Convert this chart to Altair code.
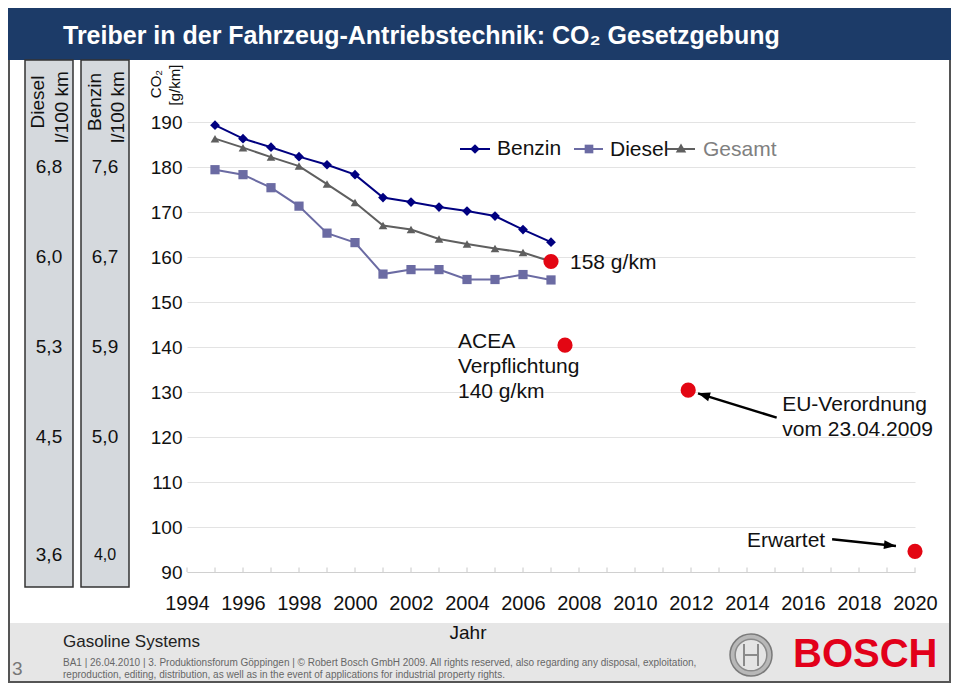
import altair as alt
import pandas as pd

# ---------------- data ----------------
years = list(range(1995, 2008))
benzin = [189.3, 186.3, 184.4, 182.3, 180.5, 178.3, 173.2, 172.2, 171.1, 170.2, 169.1, 166.1, 163.3]
diesel = [179.4, 178.3, 175.4, 171.3, 165.3, 163.2, 156.2, 157.2, 157.2, 155.0, 155.0, 156.1, 154.9]
gesamt = [186.3, 184.3, 182.2, 180.2, 176.2, 172.1, 167.0, 166.1, 164.0, 162.9, 161.9, 161.0, 159.0]
series_names = ["Benzin", "Diesel", "Gesamt"]

target_years = [2007, 2007.5, 2011.9, 2020]
target_values = [159.0, 140.4, 130.4, 94.6]

eu_arrow_years = [2015.06, 2012.25]
eu_arrow_values = [124.3, 129.7]
erw_arrow_years = [2017.04, 2019.32]
erw_arrow_values = [97.3, 95.8]

co2_ref = [180, 160, 140, 120, 93.8]
diesel_l = ["6,8", "6,0", "5,3", "4,5", "3,6"]
benzin_l = ["7,6", "6,7", "5,9", "5,0", "4,0"]

x_ticks = list(range(1994, 2021, 2))
y_ticks = list(range(90, 191, 10))
minor_years = list(range(1994, 2021))

# ---------------- styles ----------------
FONT = "Liberation Sans, Arial, sans-serif"
series_colors = ["#000080", "#6b6ba3", "#5f5f5f"]
series_shapes = ["diamond", "square", "triangle-up"]
RED = "#e30613"
NAVY = "#1c3b68"
ARROW = "M0,0L-2,-0.75L-2,0.75Z"

XS = alt.Scale(domain=[1994, 2020], nice=False, zero=False)
YS = alt.Scale(domain=[90, 190], nice=False, zero=False)
xaxis = alt.Axis(values=x_ticks, format="d", title=None, grid=False, ticks=False,
                 domain=True, domainColor="#d0d0d0", domainWidth=1,
                 labelFontSize=20, labelColor="#111111", labelPadding=21,
                 labelFlush=False, labelOverlap=False, labelFont=FONT)
yaxis = alt.Axis(values=y_ticks, title=None, grid=True, gridColor="#e3e3e3",
                 ticks=False, domain=False, labelFontSize=19, labelPadding=5,
                 labelColor="#111111", labelFont=FONT)
X = alt.X("year:Q", scale=XS, axis=xaxis)
Y = alt.Y("value:Q", scale=YS, axis=yaxis)

one = pd.DataFrame({"k": [0]})


def prect(x1, x2, y1, y2, **kw):
    return alt.Chart(one).mark_rect(**kw).encode(
        x=alt.value(x1), x2=alt.value(x2), y=alt.value(y1), y2=alt.value(y2))


def prule(x1, x2, y1, y2, **kw):
    return alt.Chart(one).mark_rule(**kw).encode(
        x=alt.value(x1), x2=alt.value(x2), y=alt.value(y1), y2=alt.value(y2))


def ptext(txt, x, y, **kw):
    kw.setdefault("font", FONT)
    kw.setdefault("baseline", "middle")
    kw.setdefault("align", "left")
    return alt.Chart(one).mark_text(text=txt, **kw).encode(x=alt.value(x), y=alt.value(y))


def ppoint(x, y, **kw):
    return alt.Chart(one).mark_point(**kw).encode(x=alt.value(x), y=alt.value(y))


layers = []

# slide background pieces
layers.append(prect(-179, 764, -114, -62, color=NAVY))
layers.append(ptext("Treiber in der Fahrzeug-Antriebstechnik: CO₂ Gesetzgebung", -124, -86,
                    fontSize=25, fontWeight="bold", color="white"))
layers.append(prect(-179, 764, 501, 561, color="#e6e6e6"))
layers.append(prule(-178, -178, -62, 561, color="#555555", strokeWidth=2))
layers.append(prule(763, 763, -62, 561, color="#555555", strokeWidth=2))
layers.append(prule(-179, 764, 560, 560, color="#555555", strokeWidth=2))

# left boxes
layers.append(prect(-162, -114, -62, 465, fill="#d5d9dd", stroke="#333333", strokeWidth=1.5))
layers.append(prect(-106, -58, -62, 465, fill="#d5d9dd", stroke="#333333", strokeWidth=1.5))
layers.append(ptext("Diesel", -149, -20, angle=270, align="center", fontSize=19, color="#111111"))
layers.append(ptext("l/100 km", -125, -15, angle=270, align="center", fontSize=19, color="#111111"))
layers.append(ptext("Benzin", -92, -20, angle=270, align="center", fontSize=19, color="#111111"))
layers.append(ptext("l/100 km", -69, -15, angle=270, align="center", fontSize=19, color="#111111"))
layers.append(ptext("CO₂", -31, -38, angle=270, align="center", fontSize=15, color="#111111"))
layers.append(ptext("[g/km]", -12, -37, angle=270, align="center", fontSize=15, color="#111111"))

lab_d = pd.DataFrame({"value": co2_ref, "lab": diesel_l})
lab_b = pd.DataFrame({"value": co2_ref, "lab": benzin_l})
layers.append(alt.Chart(lab_d).mark_text(font=FONT, fontSize=19, color="#111111").encode(
    x=alt.value(-138), y=Y, text="lab:N"))
layers.append(alt.Chart(lab_b.iloc[:4]).mark_text(font=FONT, fontSize=19, color="#111111").encode(
    x=alt.value(-82), y=Y, text="lab:N"))
layers.append(alt.Chart(lab_b.iloc[4:]).mark_text(font=FONT, fontSize=16, color="#111111").encode(
    x=alt.value(-82), y=Y, text="lab:N"))

# minor year ticks (inside)
ticks = pd.DataFrame({"year": minor_years, "value": [90] * len(minor_years), "v2": [91] * len(minor_years)})
layers.append(alt.Chart(ticks).mark_rule(color="#c8c8c8", strokeWidth=1).encode(
    x=X, y=Y, y2=alt.Y2("v2")))

# data series
df = pd.DataFrame({
    "year": years * 3,
    "value": benzin + diesel + gesamt,
    "series": [s for s in series_names for _ in years],
})
color = alt.Color("series:N", scale=alt.Scale(domain=series_names, range=series_colors), legend=None)
layers.append(alt.Chart(df).mark_line(strokeWidth=2).encode(x=X, y=Y, color=color, detail="series:N"))
layers.append(alt.Chart(df).mark_point(filled=True, opacity=1).encode(
    x=X, y=Y, color=color,
    shape=alt.Shape("series:N", scale=alt.Scale(domain=series_names, range=series_shapes), legend=None),
    size=alt.Size("series:N", scale=alt.Scale(domain=series_names, range=[95, 75, 110]), legend=None)))

# legend (custom)
layers.append(prule(273, 303, 27, 27, color=series_colors[0], strokeWidth=2))
layers.append(ppoint(288, 27, shape="diamond", filled=True, size=95, color=series_colors[0], opacity=1))
layers.append(ptext("Benzin", 310, 27, fontSize=21, color="#111111"))
layers.append(prule(387, 416, 27, 27, color=series_colors[1], strokeWidth=2))
layers.append(ppoint(402, 27, shape="square", filled=True, size=75, color=series_colors[1], opacity=1))
layers.append(ptext("Diesel", 423, 28, fontSize=21, color="#111111"))
layers.append(prule(480, 508, 27, 27, color=series_colors[2], strokeWidth=2))
layers.append(ppoint(494, 26, shape="triangle-up", filled=True, size=110, color=series_colors[2], opacity=1))
layers.append(ptext("Gesamt", 516, 28, fontSize=21, color="#808080"))

# targets
tg = pd.DataFrame({"year": target_years, "value": target_values})
layers.append(alt.Chart(tg).mark_circle(color=RED, size=230, opacity=1).encode(x=X, y=Y))


def atext(i, txt, dx, dy):
    return alt.Chart(tg.iloc[[i]]).mark_text(text=txt, font=FONT, fontSize=21, color="#111111",
                                            align="left", baseline="middle", dx=dx, dy=dy).encode(x=X, y=Y)


layers.append(atext(0, "158 g/km", 19, 1))
layers.append(atext(1, "ACEA", -107, -3))
layers.append(atext(1, "Verpflichtung", -107, 22))
layers.append(atext(1, "140 g/km", -107, 47))
layers.append(atext(2, "EU-Verordnung", 94, 15))
layers.append(atext(2, "vom 23.04.2009", 94, 40))
layers.append(atext(3, "Erwartet", -168, -10))

# arrows
eu = pd.DataFrame({"year": eu_arrow_years, "value": eu_arrow_values})
erw = pd.DataFrame({"year": erw_arrow_years, "value": erw_arrow_values})
layers.append(alt.Chart(eu).mark_line(color="black", strokeWidth=2.5).encode(x=X, y=Y))
layers.append(alt.Chart(eu.iloc[[1]]).mark_point(shape=ARROW, filled=True, size=144, angle=197,
                                                 color="black", opacity=1).encode(x=X, y=Y))
layers.append(alt.Chart(erw).mark_line(color="black", strokeWidth=2.5).encode(x=X, y=Y))
layers.append(alt.Chart(erw.iloc[[1]]).mark_point(shape=ARROW, filled=True, size=144, angle=6,
                                                  color="black", opacity=1).encode(x=X, y=Y))

# footer
layers.append(ptext("Jahr", 281, 511, align="center", fontSize=19, color="#111111"))
layers.append(ptext("Gasoline Systems", -124, 520, fontSize=17, color="#222222"))
layers.append(ptext("3", -175, 547, fontSize=19, color="#777777"))
layers.append(ptext("BA1 | 26.04.2010 | 3. Produktionsforum Göppingen | © Robert Bosch GmbH 2009. "
                    "All rights reserved, also regarding any disposal, exploitation,",
                    -124, 541, fontSize=10, color="#666666"))
layers.append(ptext("reproduction, editing, distribution, as well as in the event of applications "
                    "for industrial property rights.",
                    -124, 553, fontSize=10, color="#666666"))
# Bosch logo
layers.append(ppoint(564, 533, shape="circle", filled=True, size=1764, color="#b8b8b8", opacity=1))
layers.append(ppoint(564, 533, shape="circle", filled=False, size=1764, color="#7a7a7a",
                     strokeWidth=1.5, opacity=1))
layers.append(ppoint(564, 533, shape="circle", filled=True, size=1000, color="#e4e4e4", opacity=1))
layers.append(ppoint(564, 533, shape="circle", filled=False, size=1000, color="#8a8a8a",
                     strokeWidth=1.5, opacity=1))
layers.append(prule(557, 557, 522, 544, color="#8a8a8a", strokeWidth=2))
layers.append(prule(571, 571, 522, 544, color="#8a8a8a", strokeWidth=2))
layers.append(prule(557, 571, 533, 533, color="#8a8a8a", strokeWidth=2))
layers.append(ptext("BOSCH", 606, 533, fontSize=40, fontWeight="bold", color="#e2001a"))

chart = alt.layer(*layers).properties(
    width=728, height=450,
    autosize=alt.AutoSizeParams(type="none"),
    padding={"left": 179, "top": 114, "right": 36, "bottom": 111},
    background="white",
).configure_view(stroke=None)

chart.save("out.html", embed_options={"renderer": "svg", "actions": False})
